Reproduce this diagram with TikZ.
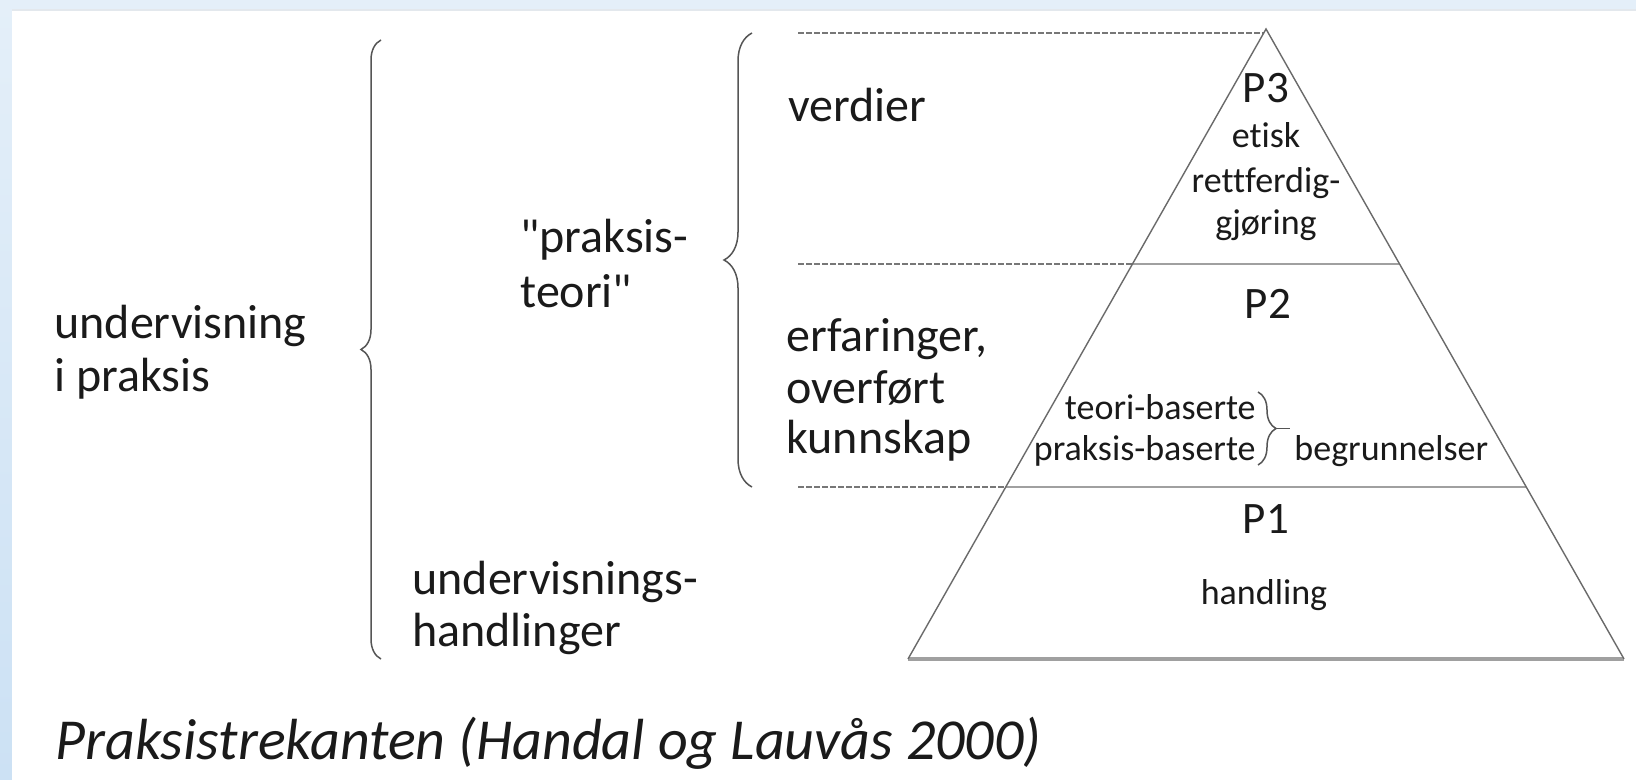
\documentclass[tikz,border=0pt]{standalone}
\usepackage{fontspec}
\setmainfont{Carlito}[Ligatures={TeXOff,CommonOff}]
\usetikzlibrary{decorations.pathreplacing,calc}
\definecolor{bgblue}{HTML}{E4EFF9}
\definecolor{stripbot}{HTML}{CCE1F4}
\definecolor{txt}{HTML}{1A1A1A}
\definecolor{edge}{HTML}{6A6A6A}
\definecolor{band}{HTML}{A0A0A0}
\definecolor{dashc}{HTML}{777777}
\definecolor{bracec}{HTML}{555555}
\begin{document}
\begin{tikzpicture}[x=0.5pt,y=-0.5pt,
  biglbl/.style={font=\fontsize{24}{26}\selectfont, anchor=base west, inner sep=0pt, text=txt},
  plbl/.style={font=\fontsize{22.5}{24}\selectfont, anchor=base, inner sep=0pt, text=txt},
  smalllbl/.style={font=\fontsize{18}{20}\selectfont, anchor=base, inner sep=0pt, text=txt},
  caption/.style={font=\fontsize{29}{32}\selectfont\itshape, anchor=base west, inner sep=0pt, text=txt},
  sideline/.style={draw=edge, line width=0.7pt},
  levelline/.style={draw=band, line width=1.4pt},
  guide/.style={draw=dashc, line width=0.9pt, dash pattern=on 3pt off 1pt},
  bigbrace/.style={draw=bracec, line width=0.75pt, decorate, decoration={brace, amplitude=#1}}
]
\useasboundingbox (0,0) rectangle (1636,780);
% background frame
\fill[bgblue] (0,0) rectangle (1636,780);
\shade[top color=bgblue, bottom color=stripbot] (0,0) rectangle (12,780);
\fill[white] (12,10) rectangle (1636,780);
\draw[color=bgblue!80!gray!60, line width=0.8pt] (12,10) -- (1636,10);

% triangle coordinates
\coordinate (A) at (1266,29);
\coordinate (BL) at (908,659);
\coordinate (BR) at (1624,659);
\coordinate (L3) at (1132.4,264);
\coordinate (R3) at (1399.6,264);
\coordinate (L2) at (1005.7,487);
\coordinate (R2) at (1526.3,487);
\coordinate (LT) at (1263.7,33);

% dashed guide lines
\coordinate (g1) at (798,33);
\coordinate (g2) at (798,264);
\coordinate (g3) at (798,487);
\draw[guide] (g1) -- (LT);
\draw[guide] (g2) -- (L3);
\draw[guide] (g3) -- (L2);

% triangle
\draw[levelline] (L3) -- (R3);
\draw[levelline] (L2) -- (R2);
\draw[draw=band, line width=1.6pt] (BL) -- (BR);
\draw[sideline, line join=miter] (BL) -- (A) -- (BR);

% braces
\coordinate (bbB) at (381,659);
\coordinate (bbT) at (381,40);
\draw[bigbrace=10pt] (bbB) -- (bbT);
\coordinate (sbB) at (752,487);
\coordinate (sbT) at (752,33);
\draw[bigbrace=14pt] (sbB) -- (sbT);
\coordinate (tbT) at (1258,392);
\coordinate (tbB) at (1258,465);
\coordinate (tbTip) at (1276,428.5);
\coordinate (tbEnd) at (1290,428.5);
\draw[bigbrace=9pt] (tbT) -- (tbB);
\draw[draw=bracec, line width=0.75pt] (tbTip) -- (tbEnd);

% left labels
\node[biglbl] (u1) at (54,338) {undervisning};
\node[biglbl] (u2) at (54,391) {i praksis};
\node[biglbl] (pt1) at (520,253) {"praksis-};
\node[biglbl] (pt2) at (520,307) {teori"};
\node[biglbl] (uh1) at (412,594) {undervisnings-};
\node[biglbl] (uh2) at (412,646) {handlinger};
\node[biglbl] (v) at (788,122) {verdier};
\node[biglbl] (e1) at (786,351) {erfaringer,};
\node[biglbl] (e2) at (786,403) {overført};
\node[biglbl] (e3) at (786,453) {kunnskap};

% triangle labels
\node[plbl] (P3) at (1266,103) {P3};
\node[smalllbl] (et1) at (1266,148) {etisk};
\node[smalllbl] (et2) at (1266,193) {rettferdig-};
\node[smalllbl] (et3) at (1266,235) {gjøring};
\node[plbl] (P2) at (1268,319) {P2};
\node[smalllbl, anchor=base east] (tb) at (1256,419) {teori-baserte};
\node[smalllbl, anchor=base east] (pb) at (1256,460) {praksis-baserte};
\node[smalllbl, anchor=base west] (beg) at (1294,460) {begrunnelser};
\node[plbl] (P1) at (1266,533) {P1};
\node[smalllbl] (hand) at (1264,604) {handling};

% caption
\node[caption] (cap) at (55,759) {Praksistrekanten (Handal og Lauvås 2000)};
\end{tikzpicture}
\end{document}
